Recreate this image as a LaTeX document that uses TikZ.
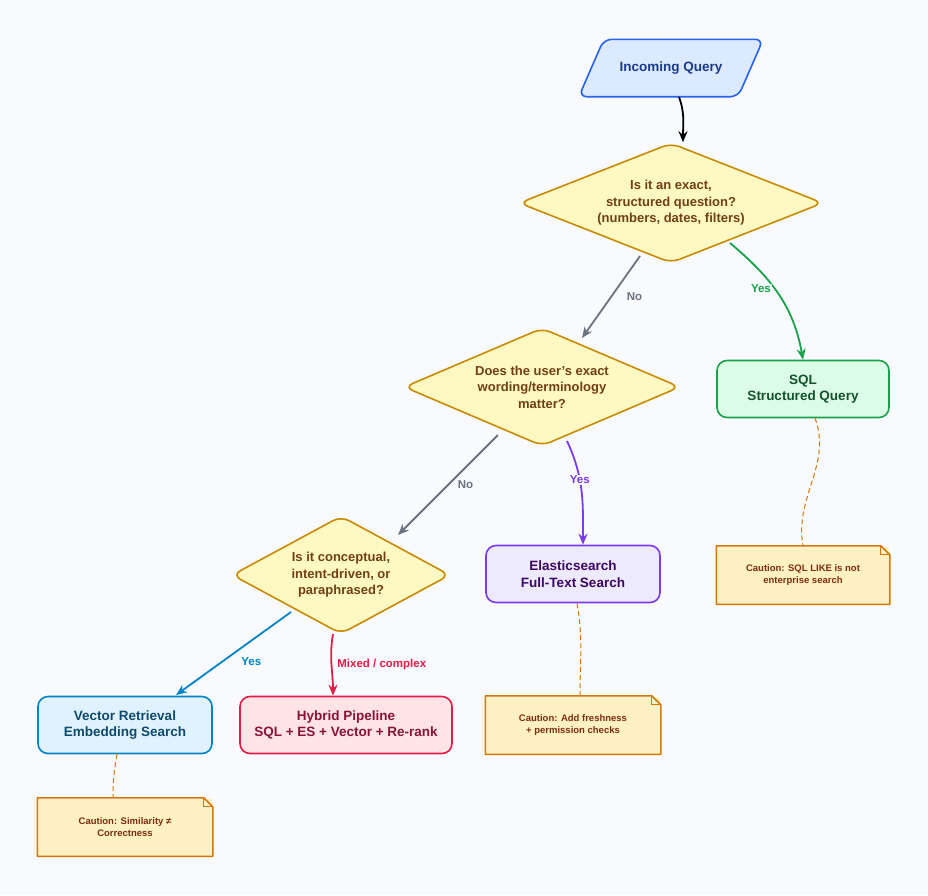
\documentclass[tikz,border=0pt]{standalone}
\usepackage{fontspec}
\setmainfont{Liberation Sans}
\usetikzlibrary{positioning,shapes.geometric,arrows.meta}
\definecolor{bgc}{HTML}{F8FAFD}
\definecolor{qfill}{HTML}{DBEAFE}\definecolor{qdraw}{HTML}{2563EB}\definecolor{qtext}{HTML}{1E3A8A}
\definecolor{dfill}{HTML}{FEF9C3}\definecolor{ddraw}{HTML}{CA8A04}\definecolor{dtext}{HTML}{713F12}
\definecolor{sfill}{HTML}{DCFCE7}\definecolor{sdraw}{HTML}{16A34A}\definecolor{stext}{HTML}{14532D}
\definecolor{efill}{HTML}{EDE9FE}\definecolor{edraw}{HTML}{7C3AED}\definecolor{etext}{HTML}{3B0764}
\definecolor{vfill}{HTML}{E0F2FE}\definecolor{vdraw}{HTML}{0284C7}\definecolor{vtext}{HTML}{0C4A6E}
\definecolor{hfill}{HTML}{FFE4E6}\definecolor{hdraw}{HTML}{E11D48}\definecolor{htext}{HTML}{881337}
\definecolor{nfill}{HTML}{FEF0C3}\definecolor{ndraw}{HTML}{D97706}\definecolor{ntext}{HTML}{7C2D12}
\definecolor{nogray}{HTML}{6B7280}
\tikzset{
  box/.style={rectangle,rounded corners=10pt,line width=1.6pt,minimum width=172pt,minimum height=57pt,
    align=center,font=\fontsize{13.5}{16.5}\selectfont\bfseries},
  decide/.style={diamond,rounded corners=9pt,line width=1.6pt,fill=dfill,draw=ddraw,inner sep=0pt,
    label={[align=center,text=dtext,font=\fontsize{13}{16.5}\selectfont\bfseries]center:#1}},
  note/.style={rectangle,line width=1.5pt,fill=nfill,minimum width=172pt,minimum height=57pt,
    align=center,text=ntext,font=\fontsize{9.5}{11.5}\selectfont\bfseries},
  flow/.style={line width=1.8pt,-{Stealth[length=11pt,width=9pt]}},
  lbl/.style={font=\fontsize{11.5}{13}\selectfont\bfseries,fill=bgc,inner sep=1pt},
  link/.style={ndraw,line width=1pt,dash pattern=on 5pt off 3pt}
}
\newcommand\dogear[1]{%
  \draw[ndraw,line width=1.5pt,line join=round] (#1.north west) -- ([xshift=-9pt]#1.north east)
    -- ([yshift=-9pt]#1.north east) -- (#1.south east) -- (#1.south west) -- cycle;
  \draw[ndraw,line width=1.2pt] ([xshift=-9pt]#1.north east) |- ([yshift=-9pt]#1.north east);
}
\begin{document}
\begin{tikzpicture}[x=1pt,y=-1pt]
\fill[bgc] (0,0) rectangle (928,895);
\useasboundingbox (0,0) rectangle (928,895);
% question nodes
\node[rectangle,minimum width=184pt,minimum height=57pt,text=qtext,
  font=\fontsize{13.5}{16}\selectfont\bfseries] (query) at (671,68) {};
\filldraw[qdraw,fill=qfill,line width=1.6pt,rounded corners=8pt]
  ([xshift=25pt]query.north west) -- (query.north east) -- ([xshift=-25pt]query.south east)
  -- (query.south west) -- cycle;
\node[text=qtext,font=\fontsize{13.5}{16}\selectfont\bfseries] at (query.center) {Incoming Query};
\node[decide={Is it an exact,\\structured question?\\(numbers, dates, filters)},minimum width=304pt,minimum height=120pt] (exact) at (671,203) {};
\node[decide={Does the user's exact\\wording/terminology\\matter?},minimum width=276pt,minimum height=118pt] (wording) at (542,387) {};
\node[decide={Is it conceptual,\\intent-driven, or\\paraphrased?},minimum width=218pt,minimum height=118pt] (concept) at (341,575) {};
% outcomes
\node[box,fill=sfill,draw=sdraw,text=stext] (sql) at (803,389) {SQL\\Structured Query};
\node[box,fill=efill,draw=edraw,text=etext,minimum width=174pt] (elastic) at (573,574) {Elasticsearch\\Full-Text Search};
\node[box,fill=vfill,draw=vdraw,text=vtext,minimum width=174pt] (vector) at (125,725) {Vector Retrieval\\Embedding Search};
\node[box,fill=hfill,draw=hdraw,text=htext,minimum width=212pt] (hybrid) at (346,725) {Hybrid Pipeline\\SQL + ES + Vector + Re-rank};
% notes
\node[note] (sqlnote) at (803,575) {Caution: SQL LIKE is not\\enterprise search};
\node[note,minimum width=174pt] (esnote) at (573,725) {Caution: Add freshness\\+ permission checks};
\node[note,minimum width=174pt] (vecnote) at (125,827) {Caution: Similarity ≠\\Correctness};
\dogear{sqlnote}\dogear{esnote}\dogear{vecnote}
% connectors
\coordinate (q0) at (679,97);
\coordinate (w0) at (582,338);
\draw[flow,black] (q0) to[out=-70,in=90] ([xshift=12pt]exact.north);
\draw[flow,nogray] (640,256) -- node[lbl,text=nogray,right=14pt] {No} (w0);
\draw[flow,sdraw] (730,243) to[out=-40,in=100] node[lbl,text=sdraw,pos=0.45,left=2pt] {Yes} (sql.north);
\draw[flow,nogray] (498,435) -- node[lbl,text=nogray,right=8pt] {No} (398,535);
\draw[flow,edraw] (567,441) to[out=-65,in=90] node[lbl,text=edraw,pos=0.38] {Yes} ([xshift=10pt]elastic.north);
\draw[flow,vdraw] (291,612) -- node[lbl,text=vdraw,below right=2pt and 6pt] {Yes} (176,695);
\draw[flow,hdraw] (333,634) to[out=-100,in=90] node[lbl,text=hdraw,right=4pt,pos=0.5] {Mixed / complex} (hybrid.north -| 333,0);
\draw[link] (815,418) to[out=-70,in=100] (sqlnote.north);
\draw[link] (elastic.south) ++(4,0) coordinate (e0) (e0) to[out=-80,in=90] ([xshift=7pt]esnote.north);
\draw[link] (vector.south) ++(-8,0) coordinate (v0) (v0) to[out=-100,in=90] ([xshift=-12pt]vecnote.north);
\end{tikzpicture}
\end{document}
